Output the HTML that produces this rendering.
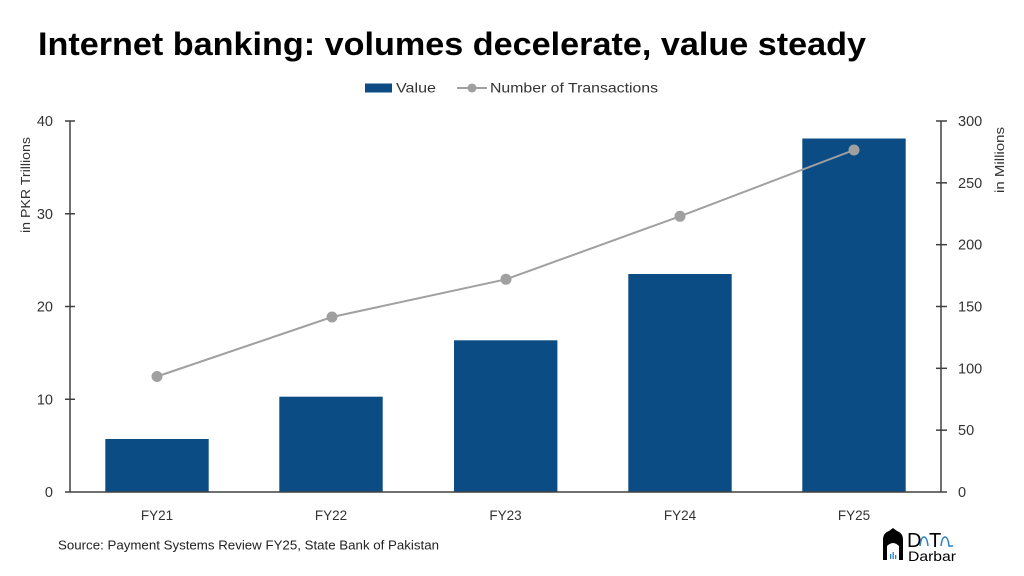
<!DOCTYPE html>
<html>
<head>
<meta charset="utf-8">
<style>
  html, body { margin:0; padding:0; background:#ffffff; }
  body { width:1024px; height:576px; overflow:hidden; }
  svg { display:block; }
  text { font-family: "Liberation Sans", "DejaVu Sans", sans-serif; }
</style>
</head>
<body>
<svg width="1024" height="576" viewBox="0 0 1024 576" xmlns="http://www.w3.org/2000/svg">
  <rect width="1024" height="576" fill="#ffffff"/>

  <!-- Title -->
  <text x="38" y="55" font-size="32" font-weight="bold" fill="#000" textLength="828" lengthAdjust="spacingAndGlyphs">Internet banking: volumes decelerate, value steady</text>

  <!-- Legend -->
  <rect x="365" y="83.5" width="27" height="9" fill="#0B4C85"/>
  <text x="396" y="92.5" font-size="14" fill="#333" textLength="40" lengthAdjust="spacingAndGlyphs">Value</text>
  <line x1="457" y1="88" x2="487" y2="88" stroke="#A0A0A0" stroke-width="2"/>
  <circle cx="472" cy="88" r="4.5" fill="#A0A0A0"/>
  <text x="490" y="92.5" font-size="14" fill="#333" textLength="168" lengthAdjust="spacingAndGlyphs">Number of Transactions</text>

  <!-- Bars -->
  <g fill="#0B4C85">
    <rect x="105.3" y="439" width="103.4" height="53"/>
    <rect x="279.3" y="396.7" width="103.4" height="95.3"/>
    <rect x="454" y="340.3" width="103.4" height="151.7"/>
    <rect x="628.3" y="274" width="103.4" height="218"/>
    <rect x="802.3" y="138.5" width="103.4" height="353.5"/>
  </g>

  <!-- Axes -->
  <g stroke="#404040" stroke-width="1.5" fill="none">
    <line x1="70" y1="121" x2="70" y2="492"/>
    <line x1="941" y1="121" x2="941" y2="492"/>
    <line x1="65" y1="492" x2="947" y2="492"/>
    <line x1="65" y1="121" x2="75" y2="121"/>
    <line x1="65" y1="213.75" x2="75" y2="213.75"/>
    <line x1="65" y1="306.5" x2="75" y2="306.5"/>
    <line x1="65" y1="399.25" x2="75" y2="399.25"/>
    <line x1="936" y1="121" x2="947" y2="121"/>
    <line x1="936" y1="182.83" x2="947" y2="182.83"/>
    <line x1="936" y1="244.67" x2="947" y2="244.67"/>
    <line x1="936" y1="306.5" x2="947" y2="306.5"/>
    <line x1="936" y1="368.33" x2="947" y2="368.33"/>
    <line x1="936" y1="430.17" x2="947" y2="430.17"/>
  </g>

  <!-- Left tick labels -->
  <g font-size="14.5" fill="#333" text-anchor="end">
    <text x="53" y="126">40</text>
    <text x="53" y="218.75">30</text>
    <text x="53" y="311.5">20</text>
    <text x="53" y="404.25">10</text>
    <text x="53" y="497">0</text>
  </g>

  <!-- Right tick labels -->
  <g font-size="14.5" fill="#333" text-anchor="start">
    <text x="958" y="126">300</text>
    <text x="958" y="187.83">250</text>
    <text x="958" y="249.67">200</text>
    <text x="958" y="311.5">150</text>
    <text x="958" y="373.33">100</text>
    <text x="958" y="435.17">50</text>
    <text x="958" y="497">0</text>
  </g>

  <!-- Axis titles -->
  <text transform="translate(30,185) rotate(-90)" font-size="13" fill="#333" text-anchor="middle" textLength="96" lengthAdjust="spacingAndGlyphs">in PKR Trillions</text>
  <text transform="translate(1004,160) rotate(-90)" font-size="13" fill="#333" text-anchor="middle" textLength="66" lengthAdjust="spacingAndGlyphs">in Millions</text>

  <!-- Category labels -->
  <g font-size="13.5" fill="#333" text-anchor="middle">
    <text x="157" y="520">FY21</text>
    <text x="331" y="520">FY22</text>
    <text x="505.5" y="520">FY23</text>
    <text x="680" y="520">FY24</text>
    <text x="854" y="520">FY25</text>
  </g>

  <!-- Line series -->
  <polyline points="157,376.5 332,317 506,279.3 680,216.3 854,150" fill="none" stroke="#A0A0A0" stroke-width="2"/>
  <g fill="#A0A0A0">
    <circle cx="157" cy="376.5" r="5.5"/>
    <circle cx="332" cy="317" r="5.5"/>
    <circle cx="506" cy="279.3" r="5.5"/>
    <circle cx="680" cy="216.3" r="5.5"/>
    <circle cx="854" cy="150" r="5.5"/>
  </g>

  <!-- Source -->
  <text x="58" y="549.5" font-size="13" fill="#222" textLength="381" lengthAdjust="spacingAndGlyphs">Source: Payment Systems Review FY25, State Bank of Pakistan</text>

  <!-- Logo -->
  <g>
    <path d="M883,560 L883,540 Q883,533 889,531 L893,528 L897,531 Q903,533 903,540 L903,560 Z" fill="#000"/>
    <path d="M887,560 L887,546 Q893,540 899,546 L899,560 Z" fill="#fff"/>
    <rect x="890" y="554" width="1.3" height="5" fill="#2a7fc4"/>
    <rect x="892.5" y="552" width="1.3" height="7" fill="#2a7fc4"/>
    <rect x="895" y="555" width="1.3" height="4" fill="#2a7fc4"/>
    <text x="907" y="547" font-size="20" fill="#000">D</text>
    <text x="929" y="547" font-size="20" fill="#000">T</text>
    <path d="M920,546 Q921,537 924,537 Q927,537 928,546 M941,546 Q942,537 945,537 Q948,537 949,546 L953,546" fill="none" stroke="#2a7fc4" stroke-width="1.5"/>
    <text x="908" y="561" font-size="14" fill="#000" textLength="48" lengthAdjust="spacingAndGlyphs">Darbar</text>
  </g>
</svg>
</body>
</html>
